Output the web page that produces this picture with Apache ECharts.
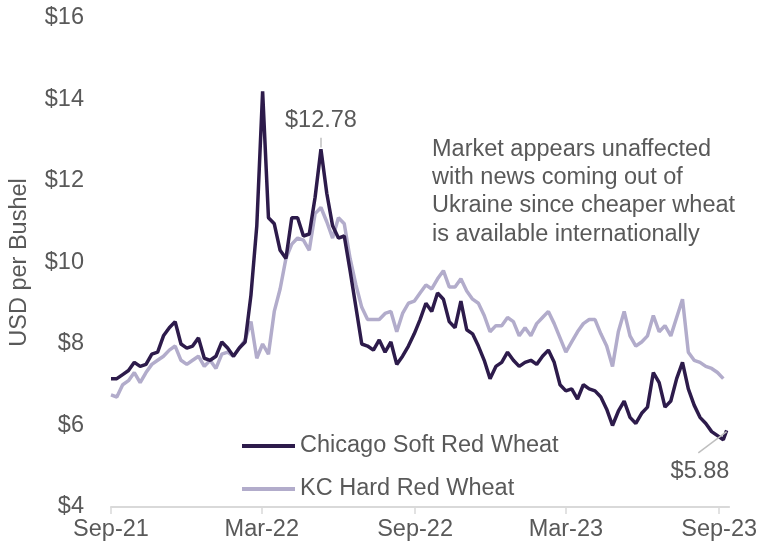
<!DOCTYPE html>
<html>
<head>
<meta charset="utf-8">
<script src="https://cdn.jsdelivr.net/npm/echarts@6/dist/echarts.min.js"></script>
<style>
  html, body { margin: 0; padding: 0; background: #fff; }
  #chart { width: 760px; height: 550px; }
</style>
</head>
<body>
<div id="chart"></div>
<script>
// weekly observations, Sep 2021 - Sep 2023
const dates = [
  '2021-09-01','2021-09-08','2021-09-15','2021-09-22','2021-09-29','2021-10-06','2021-10-13','2021-10-20','2021-10-27',
  '2021-11-03','2021-11-10','2021-11-17','2021-11-24','2021-12-01','2021-12-08','2021-12-15','2021-12-22','2021-12-29',
  '2022-01-05','2022-01-12','2022-01-19','2022-01-26','2022-02-02','2022-02-09','2022-02-16','2022-02-23',
  '2022-03-02','2022-03-09','2022-03-16','2022-03-23','2022-03-30','2022-04-06','2022-04-13','2022-04-20','2022-04-27',
  '2022-05-04','2022-05-11','2022-05-18','2022-05-25','2022-06-01','2022-06-08','2022-06-15','2022-06-22','2022-06-29',
  '2022-07-06','2022-07-13','2022-07-20','2022-07-27','2022-08-03','2022-08-10','2022-08-17','2022-08-24','2022-08-31',
  '2022-09-07','2022-09-14','2022-09-21','2022-09-28','2022-10-05','2022-10-12','2022-10-19','2022-10-26',
  '2022-11-02','2022-11-09','2022-11-16','2022-11-23','2022-11-30','2022-12-07','2022-12-14','2022-12-21','2022-12-28',
  '2023-01-04','2023-01-11','2023-01-18','2023-01-25','2023-02-01','2023-02-08','2023-02-15','2023-02-22',
  '2023-03-01','2023-03-08','2023-03-15','2023-03-22','2023-03-29','2023-04-05','2023-04-12','2023-04-19','2023-04-26',
  '2023-05-03','2023-05-10','2023-05-17','2023-05-24','2023-05-31','2023-06-07','2023-06-14','2023-06-21','2023-06-28',
  '2023-07-05','2023-07-12','2023-07-19','2023-07-26','2023-08-02','2023-08-09','2023-08-16','2023-08-23','2023-08-30',
  '2023-09-06','2023-09-10'
];

const chicago = [
  7.15, 7.15, 7.25, 7.35, 7.55, 7.45, 7.5, 7.75, 7.8,
  8.2, 8.4, 8.55, 8.0, 7.9, 7.95, 8.15, 7.65, 7.6,
  7.7, 8.05, 7.9, 7.7, 7.9, 8.05, 9.2, 10.9,
  14.2, 11.1, 10.95, 10.3, 10.1, 11.1, 11.1, 10.65, 10.7,
  11.6, 12.78, 11.7, 10.9, 10.6, 10.65, 9.8, 8.9, 8.0,
  7.95, 7.85, 8.1, 7.8, 8.05, 7.5, 7.7, 7.95, 8.25,
  8.6, 9.0, 8.8, 9.25, 9.1, 8.55, 8.4, 9.05,
  8.35, 8.25, 7.95, 7.6, 7.15, 7.45, 7.55, 7.8, 7.6,
  7.45, 7.55, 7.6, 7.5, 7.7, 7.85, 7.55, 7.0,
  6.85, 6.9, 6.65, 7.0, 6.9, 6.85, 6.7, 6.4, 6.0,
  6.35, 6.6, 6.2, 6.05, 6.3, 6.45, 7.3, 7.05, 6.45,
  6.6, 7.15, 7.55, 6.9, 6.5, 6.2, 6.05, 5.85, 5.75,
  5.65, 5.88
];

const kansas = [
  6.75, 6.7, 7.0, 7.1, 7.3, 7.05, 7.3, 7.5, 7.6,
  7.7, 7.85, 7.95, 7.6, 7.5, 7.6, 7.7, 7.45, 7.6,
  7.4, 7.75, 7.8, 7.7, 7.9, 8.1, 8.55, 7.65,
  8.0, 7.75, 8.8, 9.35, 10.1, 10.45, 10.6, 10.55, 10.3,
  11.2, 11.35, 11.0, 10.6, 11.1, 10.95, 10.1, 9.45, 8.9,
  8.6, 8.6, 8.6, 8.75, 8.8, 8.3, 8.75, 9.0, 9.05,
  9.25, 9.45, 9.35, 9.6, 9.8, 9.4, 9.4, 9.6,
  9.3, 9.1, 9.0, 8.7, 8.3, 8.45, 8.45, 8.65, 8.55,
  8.2, 8.4, 8.2, 8.5, 8.65, 8.8, 8.5, 8.15,
  7.8, 8.05, 8.3, 8.5, 8.6, 8.6, 8.25, 7.95, 7.45,
  8.3, 8.8, 8.2, 7.95, 8.05, 8.2, 8.7, 8.3, 8.45,
  8.2, 8.65, 9.1, 7.8, 7.6, 7.55, 7.45, 7.4, 7.3,
  7.15, null
];

const seriesNames = ['Chicago Soft Red Wheat', 'KC Hard Red Wheat'];
const tickDates = ['2021-09-01', '2022-03-01', '2022-09-01', '2023-03-01', '2023-09-01'];
const tickLabels = ['Sep-21', 'Mar-22', 'Sep-22', 'Mar-23', 'Sep-23'];
const yTicks = [4, 6, 8, 10, 12, 14, 16];
const note = [
  'Market appears unaffected',
  'with news coming out of',
  'Ukraine since cheaper wheat',
  'is available internationally'
];

const FONT = 'Liberation Sans, Arial, sans-serif';
const TXT = '#595959';
const FS = 23.5;
const DARK = '#2d1b4b';
const LIGHT = '#b2accb';

// dates -> timestamps (UTC) so a plain value axis can carry them
const ts = s => Date.parse(s + 'T00:00:00Z');
const tickTimes = tickDates.map(ts);

const chart = echarts.init(document.getElementById('chart'));

chart.setOption({
  animation: false,
  textStyle: { fontFamily: FONT },
  grid: { left: 109, right: 27, top: 18, bottom: 43 },
  legend: {
    data: seriesNames,
    orient: 'vertical',
    left: 237,
    top: 427,
    icon: 'rect',
    itemWidth: 53,
    itemHeight: 4,
    itemGap: 15,
    textStyle: { fontFamily: FONT, fontSize: FS, color: TXT, lineHeight: 28 }
  },
  xAxis: {
    type: 'value',
    min: ts('2021-09-01'),
    max: ts('2023-09-13'),
    axisLine: { show: true, onZero: false, lineStyle: { color: '#d9d9d9', width: 2 } },
    axisTick: {
      show: true,
      customValues: tickTimes,
      length: 7,
      lineStyle: { color: '#d9d9d9', width: 1.5 }
    },
    axisLabel: {
      customValues: tickTimes,
      margin: 11,
      fontSize: FS,
      color: TXT,
      fontFamily: FONT,
      formatter: v => {
        const i = tickTimes.indexOf(v);
        return i >= 0 ? tickLabels[i] : '';
      }
    },
    splitLine: { show: false }
  },
  yAxis: {
    type: 'value',
    min: yTicks[0],
    max: yTicks[yTicks.length - 1],
    interval: 2,
    name: 'USD per Bushel',
    nameLocation: 'middle',
    nameRotate: 90,
    nameGap: 79,
    nameTextStyle: { fontSize: FS, color: TXT, fontFamily: FONT },
    axisLine: { show: false },
    axisTick: { show: false },
    splitLine: { show: false },
    axisLabel: { margin: 27, fontSize: FS, color: TXT, fontFamily: FONT, formatter: v => '$' + v }
  },
  series: [
    {
      name: seriesNames[1],
      type: 'line',
      data: dates.map((d, i) => [ts(d), kansas[i]]),
      showSymbol: false,
      symbol: 'none',
      itemStyle: { color: LIGHT },
      lineStyle: { color: LIGHT, width: 3.5 },
      z: 2
    },
    {
      name: seriesNames[0],
      type: 'line',
      data: dates.map((d, i) => [ts(d), chicago[i]]),
      showSymbol: false,
      symbol: 'none',
      itemStyle: { color: DARK },
      lineStyle: { color: DARK, width: 3.5 },
      z: 3,
      markLine: {
        silent: true,
        symbol: 'none',
        label: { show: false },
        lineStyle: { color: '#bfbfbf', width: 1.5, type: 'solid' },
        data: [
          [{ coord: [ts('2022-05-11'), 12.82] }, { coord: [ts('2022-05-11'), 13.06] }],
          [{ coord: [ts('2023-08-07'), 5.33] }, { coord: [ts('2023-09-10'), 5.85] }]
        ]
      },
      markPoint: {
        silent: true,
        symbol: 'circle',
        symbolSize: 0,
        label: { show: true, position: 'inside', fontSize: FS, color: TXT, fontFamily: FONT },
        data: [
          { coord: [ts('2022-05-11'), 13.48], label: { formatter: '$12.78' } },
          { coord: [ts('2023-08-09'), 4.88], label: { formatter: '$5.88' } }
        ]
      }
    }
  ],
  graphic: [
    {
      type: 'text',
      left: 432,
      top: 135,
      style: {
        text: note.join('\n'),
        font: FS + 'px ' + FONT,
        fill: TXT,
        lineHeight: 28.3
      }
    }
  ]
});
</script>
</body>
</html>
